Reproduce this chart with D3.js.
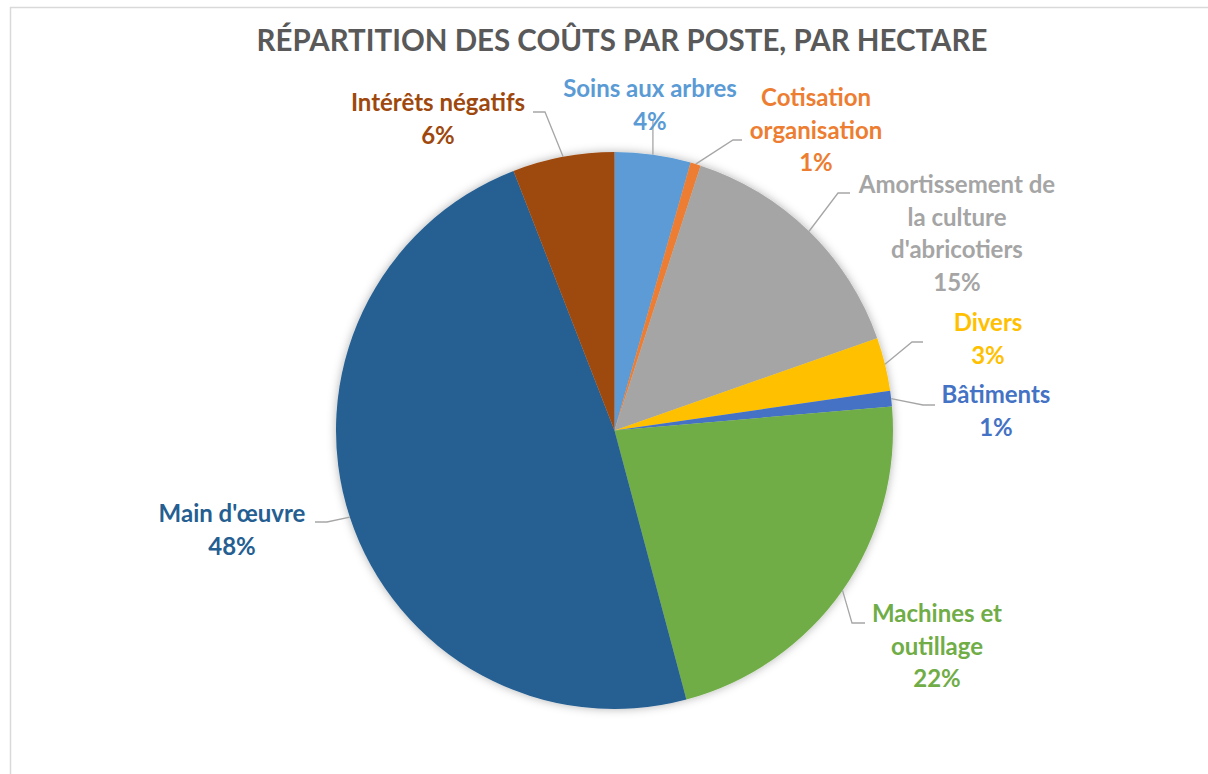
<!DOCTYPE html>
<html>
<head>
<meta charset="utf-8">
<script src="https://cdn.jsdelivr.net/npm/d3@7"></script>
<style>
  body { margin: 0; background: #fff; }
  svg { display: block; }
</style>
</head>
<body>
<div id="chart"></div>
<script>
// data (percent of total cost per hectare)
var categories = ["Soins aux arbres", "Cotisation organisation", "Amortissement de la culture d'abricotiers",
                  "Divers", "Bâtiments", "Machines et outillage", "Main d'œuvre", "Intérêts négatifs"];
var values = [4.4, 0.6, 14.6, 3.1, 0.9, 22.2, 48.2, 5.9];
var colors = ["#5B9BD5", "#ED7D31", "#A5A5A5", "#FFC000", "#4472C4", "#70AD47", "#255E91", "#9E480E"];
// label text lines (how the chart wraps them)
var labelLines = [["Soins aux arbres"], ["Cotisation", "organisation"], ["Amortissement de", "la culture", "d'abricotiers"],
                  ["Divers"], ["Bâtiments"], ["Machines et", "outillage"], ["Main d'œuvre"], ["Intérêts négatifs"]];

var width = 1208, height = 774;
var cx = 614.5, cy = 430.5, r = 278.5;
var lineH = 32.5;

// label placement: centre x, first baseline y, and the elbow of the leader line
var labelPos = [
  {x: 650, y: 97,  elbow: null},
  {x: 816, y: 106, elbow: [[733, 140], [742, 140]]},
  {x: 957, y: 193, elbow: [[838, 193], [850, 193]]},
  {x: 988, y: 331, elbow: [[912, 342], [923, 342]]},
  {x: 996, y: 403, elbow: [[923, 405], [935, 405]]},
  {x: 937, y: 622, elbow: [[852, 623], [865, 623]]},
  {x: 232, y: 522, elbow: [[327, 522], [315, 522]]},
  {x: 438, y: 111, elbow: [[545, 112], [533, 112]]}
];

var svg = d3.select("#chart").append("svg")
    .attr("width", width).attr("height", height);

var defs = svg.append("defs");
var f = defs.append("filter").attr("id", "shadow")
    .attr("x", "-20%").attr("y", "-20%").attr("width", "140%").attr("height", "140%");
f.append("feDropShadow").attr("dx", 0).attr("dy", 0).attr("stdDeviation", 5)
    .attr("flood-color", "#000").attr("flood-opacity", 0.3);

// chart area border
svg.append("rect")
    .attr("x", 10.5).attr("y", 7.5)
    .attr("width", width).attr("height", height)
    .attr("fill", "#fff").attr("stroke", "#d9d9d9").attr("stroke-width", 1.5);

// title
var title = svg.append("text")
    .attr("x", 622).attr("y", 51)
    .attr("text-anchor", "middle")
    .style("font-family", "Lato, 'Open Sans', sans-serif")
    .style("font-weight", "bold")
    .style("font-size", "30px")
    .attr("fill", "#595959")
    .text("RÉPARTITION DES COÛTS PAR POSTE, PAR HECTARE");
title.attr("textLength", 731).attr("lengthAdjust", "spacingAndGlyphs");

var total = d3.sum(values);
var pct = d3.format(".0%");

var pie = d3.pie().sort(null).value(function(d){ return d; });
var arcs = pie(values);
var arc = d3.arc().innerRadius(0).outerRadius(r);

var g = svg.append("g").attr("transform", "translate(" + cx + "," + cy + ")");

g.append("g").attr("filter", "url(#shadow)")
  .selectAll("path")
  .data(arcs)
  .enter().append("path")
    .attr("d", arc)
    .attr("fill", function(d, i){ return colors[i]; });

// leader lines
arcs.forEach(function(d, i){
  var a = (d.startAngle + d.endAngle) / 2;
  var p0 = [cx + r * Math.sin(a), cy - r * Math.cos(a)];
  var pts = [p0];
  var lp = labelPos[i];
  if (lp.elbow) {
    pts = pts.concat(lp.elbow);
  } else {
    pts.push([p0[0], lp.y + lineH * (labelLines[i].length) - 10]);
  }
  svg.append("path")
    .attr("d", d3.line()(pts))
    .attr("fill", "none")
    .attr("stroke", "#a6a6a6")
    .attr("stroke-width", 1.3);
});

// data labels
arcs.forEach(function(d, i){
  var lp = labelPos[i];
  var lines = labelLines[i].concat([pct(d.value / total)]);
  var t = svg.append("text")
    .attr("text-anchor", "middle")
    .style("font-family", "Lato, 'Open Sans', sans-serif")
    .style("font-weight", "bold")
    .style("font-size", "24px")
    .attr("fill", colors[i]);
  lines.forEach(function(s, k){
    t.append("tspan").attr("x", lp.x).attr("y", lp.y + k * lineH).text(s);
  });
});
</script>
</body>
</html>
